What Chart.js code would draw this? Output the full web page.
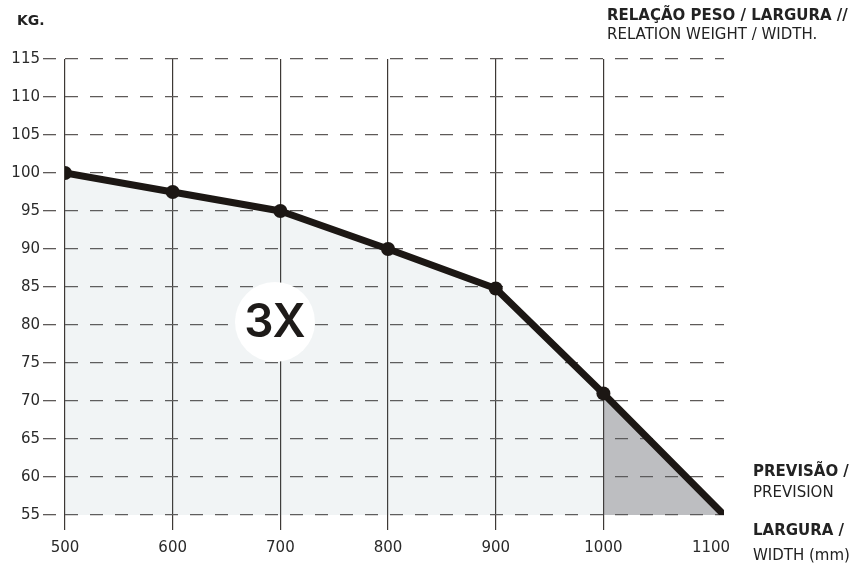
<!DOCTYPE html>
<html>
<head>
<meta charset="utf-8">
<script src="https://cdn.jsdelivr.net/npm/chart.js@4"></script>
<style>
  html, body { margin: 0; padding: 0; background: #fff; }
  #wrap { width: 860px; height: 563px; position: relative; }
</style>
</head>
<body>
<div id="wrap"><canvas id="c"></canvas></div>
<script>
// Relação peso / largura
const widths = [500, 600, 700, 800, 900, 1000];
const weights = [100, 97.5, 95, 90, 84.8, 71];
// previsão (prolongamento da curva)
const forecastWidths = [1000, 1112];
const forecastWeights = [71, 55];
const xTicks = [500, 600, 700, 800, 900, 1000, 1100];
const yMin = 55, yMax = 115, yStep = 5;

const toPts = (xs, ys) => xs.map((x, i) => ({ x: x, y: ys[i] }));
const linePts = toPts(widths, weights).concat({ x: forecastWidths[1], y: forecastWeights[1] });

const FONT = "'DejaVu Sans', 'Open Sans', sans-serif";

const overlay = {
    id: 'overlay',
    afterDatasetsDraw(chart) {
        const { ctx, scales } = chart;
        const cx = scales.x.getPixelForValue(695), cy = scales.y.getPixelForValue(80.4);
        ctx.save();
        ctx.beginPath();
        ctx.arc(cx, cy, 40, 0, Math.PI * 2);
        ctx.fillStyle = '#fff';
        ctx.fill();
        ctx.fillStyle = '#1e1b19';
        ctx.font = "600 46px Inter, 'Open Sans', sans-serif";
        ctx.textAlign = 'center';
        ctx.textBaseline = 'middle';
        ctx.fillText('3X', cx, cy + 1);
        ctx.restore();
    },
    afterDraw(chart) {
        const ctx = chart.ctx;
        ctx.save();
        ctx.fillStyle = '#222';
        ctx.textAlign = 'left';
        ctx.textBaseline = 'alphabetic';
        const t = (s, x, y, bold, size) => {
            ctx.font = (bold ? 'bold ' : '') + (size || 15) + 'px ' + FONT;
            ctx.fillText(s, x, y);
        };
        t('KG.', 17, 25, true, 14);
        t('RELAÇÃO PESO / LARGURA //', 607, 20, true);
        t('RELATION WEIGHT / WIDTH.', 607, 39, false);
        t('PREVISÃO /', 753, 476, true);
        t('PREVISION', 753, 497, false);
        t('LARGURA /', 753, 535, true);
        t('WIDTH (mm)', 753, 560, false);
        ctx.restore();
    }
};

new Chart(document.getElementById('c'), {
    type: 'line',
    data: {
        datasets: [
            {
                data: linePts,
                borderColor: '#1c1714',
                borderWidth: 7,
                borderJoinStyle: 'round',
                pointRadius: linePts.map((p, i) => i < widths.length ? 7 : 0),
                pointBackgroundColor: '#1c1714',
                pointBorderWidth: 0,
                fill: false,
                order: 0
            },
            {
                data: toPts(widths, weights),
                borderWidth: 0,
                pointRadius: 0,
                backgroundColor: 'rgba(95,135,145,0.09)',
                fill: 'start',
                order: 2
            },
            {
                data: toPts(forecastWidths, forecastWeights),
                borderWidth: 0,
                pointRadius: 0,
                backgroundColor: 'rgba(90,92,100,0.4)',
                fill: 'start',
                order: 1
            }
        ]
    },
    options: {
        responsive: true,
        maintainAspectRatio: false,
        animation: false,
        layout: { padding: { top: 59, right: 136, left: 0, bottom: 0 } },
        plugins: { legend: { display: false }, tooltip: { enabled: false } },
        scales: {
            x: {
                type: 'linear',
                min: 500,
                max: 1112,
                afterBuildTicks: s => { s.ticks = xTicks.map(v => ({ value: v })); },
                afterFit: s => { s.height = 48; },
                grid: {
                    color: c => c.tick && c.tick.value === 1100 ? 'rgba(0,0,0,0)' : '#3d3835',
                    lineWidth: 1.2,
                    tickLength: 15
                },
                border: { display: false },
                ticks: {
                    padding: 9,
                    color: '#2a2a2a',
                    font: { family: FONT, size: 15 },
                    maxRotation: 0,
                    callback: v => String(v)
                }
            },
            y: {
                min: yMin,
                max: yMax,
                ticks: {
                    stepSize: yStep,
                    padding: 3,
                    color: '#2a2a2a',
                    font: { family: FONT, size: 15 }
                },
                afterFit: s => { s.width = 65; },
                grid: {
                    color: '#5e5a58',
                    lineWidth: 1.3,
                    tickLength: 22,
                    tickBorderDash: [13, 12],
                    tickColor: '#5e5a58'
                },
                border: { display: false, dash: [13, 12] }
            }
        }
    },
    plugins: [overlay]
});
</script>
</body>
</html>
